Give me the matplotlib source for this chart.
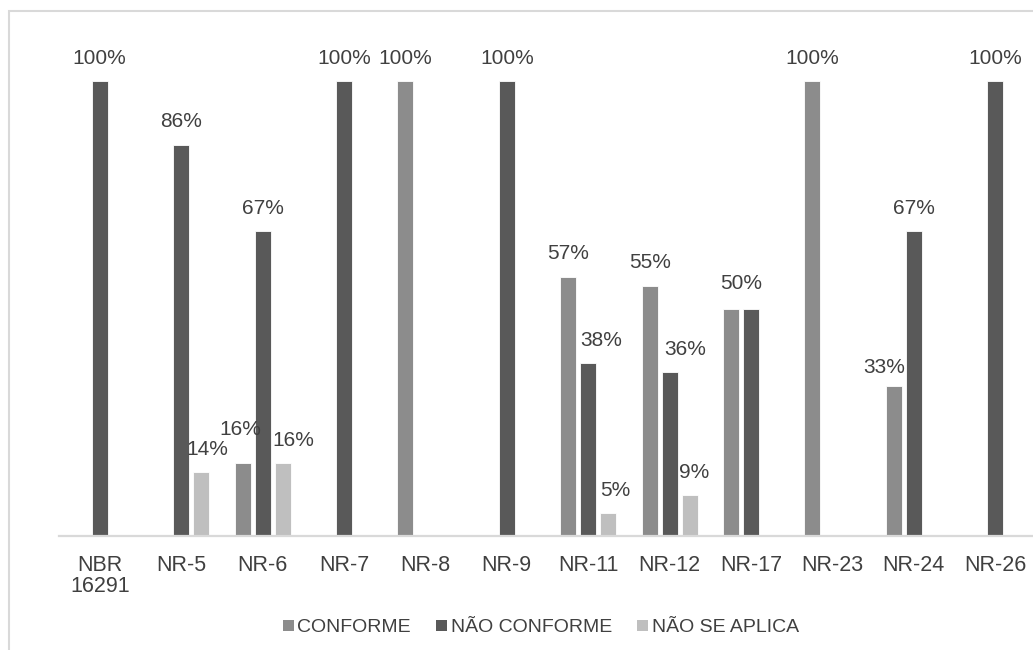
import matplotlib
matplotlib.use("Agg")
import matplotlib.pyplot as plt
from matplotlib.patches import Rectangle, Patch
import numpy as np

plt.rcParams['font.family'] = ['Liberation Sans', 'DejaVu Sans']

categories = ["NBR\n16291", "NR-5", "NR-6", "NR-7", "NR-8", "NR-9",
              "NR-11", "NR-12", "NR-17", "NR-23", "NR-24", "NR-26"]
series_names = ["CONFORME", "NÃO CONFORME", "NÃO SE APLICA"]
conforme = [0, 0, 16, 0, 100, 0, 57, 55, 50, 100, 33, 0]
nao_conforme = [100, 86, 67, 100, 0, 100, 38, 36, 50, 0, 67, 100]
nao_se_aplica = [0, 14, 16, 0, 0, 0, 5, 9, 0, 0, 0, 0]

colors = ["#8c8c8c", "#595959", "#bfbfbf"]
text_color = "#404040"

W, H = 1033, 650
fig = plt.figure(figsize=(W / 100, H / 100), dpi=100)
fig.patch.set_facecolor("white")

# outer chart border
fig.patches.append(Rectangle((9 / W, -0.1), 1.2, 1 - 11 / H + 0.1,
                             transform=fig.transFigure, fill=False,
                             edgecolor="#d9d9d9", linewidth=1.5))

x0, x1 = 59, 1036
ybase, ytop = 536, 81
ax = fig.add_axes([x0 / W, (H - ybase) / H, (x1 - x0) / W, (ybase - ytop) / H])
ax.set_xlim(-0.5, len(categories) - 0.5)
ax.set_ylim(0, 100)

x = np.arange(len(categories))
unit = 81.4  # px per category
bw = 16 / unit
step = 20 / unit
data = [conforme, nao_conforme, nao_se_aplica]

# label tweaks (pixel offsets) to mimic the original's label placement
tweaks = {(0, 2): (-2, 11), (0, 10): (-10, -5), (0, 8): (10, 2),
          (1, 6): (13, 0), (1, 7): (16, 0),
          (2, 1): (6, 0), (2, 2): (11, 0), (2, 6): (7, 0), (2, 7): (4, 0)}
merged = {(1, 8)}  # label coincides with the CONFORME one in the original

for s, vals in enumerate(data):
    offs = (s - 1) * step
    ax.bar(x + offs, vals, width=bw, color=colors[s], edgecolor="white",
           linewidth=0.6, zorder=2)
    for i, v in enumerate(vals):
        if v > 0 and (s, i) not in merged:
            dx, dy = tweaks.get((s, i), (0, 0))
            ax.annotate(f"{v}%", (x[i] + offs, v),
                        xytext=(dx * 0.72, (23 + dy) * 0.72),
                        textcoords="offset points", ha="center", va="center",
                        fontsize=15, color=text_color, annotation_clip=False)

for sp in ["top", "right", "left"]:
    ax.spines[sp].set_visible(False)
ax.spines["bottom"].set_color("#d9d9d9")
ax.spines["bottom"].set_linewidth(1.6)
ax.set_yticks([])
ax.set_xticks(x)
ax.set_xticklabels(categories, fontsize=15.5, color=text_color, linespacing=0.95)
ax.tick_params(axis="x", length=0, pad=14)

handles = [Patch(facecolor=c, edgecolor="none") for c in colors]
fig.legend(handles, series_names, loc="center", bbox_to_anchor=(541 / W, (H - 628) / H),
           ncol=3, frameon=False, fontsize=14, labelcolor=text_color,
           handlelength=0.55, handleheight=0.55, handletextpad=0.2,
           columnspacing=1.3)

fig.savefig("out.png", dpi=100, facecolor="white")
